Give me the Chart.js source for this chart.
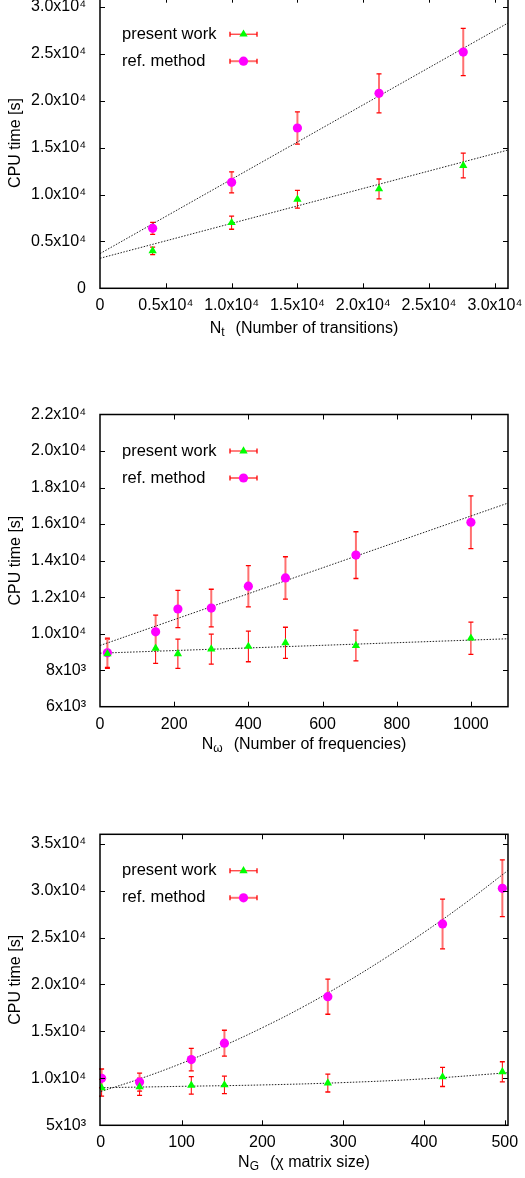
<!DOCTYPE html>
<html>
<head>
<meta charset="utf-8">
<title>CPU time</title>
<script src="https://cdn.jsdelivr.net/npm/chart.js@4.4.1/dist/chart.umd.min.js"></script>
<style>
  html, body { margin: 0; padding: 0; background: #fff; }
  body { position: relative; width: 525px; height: 1178px; overflow: hidden; }
  canvas { position: absolute; left: 0; }
</style>
</head>
<body>
<canvas id="transChart" width="525" height="380" style="top:-30px"></canvas>
<canvas id="freqChart" width="525" height="400" style="top:370px"></canvas>
<canvas id="sizeChart" width="525" height="388" style="top:790px"></canvas>
<script>
// panel 1: CPU time vs number of transitions
const transX = [4000, 10000, 15000, 21200, 27600];
const transPresent = [4000, 7000, 9500, 10600, 13100];
const transPresentErr = [400, 700, 950, 1060, 1310];
const transRef = [6400, 11300, 17100, 20800, 25200];
const transRefErr = [640, 1130, 1710, 2080, 2520];
const transFitX = [0, 31000];
const transFitPresent = [3200, 14750];
const transFitRef = [3700, 28300];
const transXTicks = [0, 5000, 10000, 15000, 20000, 25000, 30000];
const transXLabels = ['0', '0.5x10⁴', '1.0x10⁴', '1.5x10⁴', '2.0x10⁴', '2.5x10⁴', '3.0x10⁴'];
const transYTicks = [0, 5000, 10000, 15000, 20000, 25000, 30000];
const transYLabels = ['0', '0.5x10⁴', '1.0x10⁴', '1.5x10⁴', '2.0x10⁴', '2.5x10⁴', '3.0x10⁴'];

// panel 2: CPU time vs number of frequencies
const freqX = [20, 150, 210, 300, 400, 500, 690, 1000];
const freqPresent = [8900, 9200, 8900, 9150, 9300, 9500, 9350, 9750];
const freqPresentErr = [800, 830, 800, 820, 840, 850, 840, 880];
const freqRef = [8950, 10100, 11350, 11400, 12600, 13050, 14300, 16100];
const freqRefErr = [800, 910, 1020, 1030, 1130, 1160, 1280, 1440];
const freqFitX = [0, 1100];
const freqFitPresent = [8930, 9720];
const freqFitRef = [9350, 17150];
const freqXTicks = [0, 200, 400, 600, 800, 1000];
const freqXLabels = ['0', '200', '400', '600', '800', '1000'];
const freqYTicks = [6000, 8000, 10000, 12000, 14000, 16000, 18000, 20000, 22000];
const freqYLabels = ['6x10³', '8x10³', '1.0x10⁴', '1.2x10⁴', '1.4x10⁴', '1.6x10⁴', '1.8x10⁴', '2.0x10⁴', '2.2x10⁴'];

// panel 3: CPU time vs chi matrix size
const sizeX = [1, 48, 112, 153, 281, 423, 497];
const sizePresent = [9000, 9100, 9250, 9300, 9500, 10150, 10700];
const sizePresentErr = [900, 910, 925, 930, 950, 1015, 1070];
const sizeRef = [10000, 9600, 12000, 13750, 18700, 26450, 30250];
const sizeRefErr = [1000, 960, 1200, 1375, 1870, 2645, 3025];
const sizeFitPresentX = [0, 100, 200, 300, 400, 504];
const sizeFitPresent = [9000, 9150, 9300, 9550, 9950, 10600];
const sizeFitRefX = [0, 50, 100, 150, 200, 250, 300, 350, 400, 450, 504];
const sizeFitRef = [8600, 10000, 11600, 13400, 15400, 17600, 20050, 22700, 25550, 28600, 32150];
const sizeXTicks = [0, 100, 200, 300, 400, 500];
const sizeXLabels = ['0', '100', '200', '300', '400', '500'];
const sizeYTicks = [5000, 10000, 15000, 20000, 25000, 30000, 35000];
const sizeYLabels = ['5x10³', '1.0x10⁴', '1.5x10⁴', '2.0x10⁴', '2.5x10⁴', '3.0x10⁴', '3.5x10⁴'];

const FONT = '"Liberation Sans", Arial, Helvetica, sans-serif';
const GREEN = '#00ff00';
const MAGENTA = '#ff00ff';

function pts(xs, ys) {
  return xs.map((x, i) => ({ x, y: ys[i] }));
}

function drawMarker(ctx, style, x, y) {
  ctx.beginPath();
  if (style === 'triangle') {
    const r = 4.8;
    ctx.fillStyle = GREEN;
    ctx.moveTo(x, y - r);
    ctx.lineTo(x + r * Math.sin(2 * Math.PI / 3), y - r * Math.cos(2 * Math.PI / 3));
    ctx.lineTo(x + r * Math.sin(4 * Math.PI / 3), y - r * Math.cos(4 * Math.PI / 3));
    ctx.closePath();
  } else {
    ctx.fillStyle = MAGENTA;
    ctx.arc(x, y, 4.6, 0, Math.PI * 2);
  }
  ctx.fill();
}

// vertical error bar (horizontal when legend sample)
function errBar(ctx, light, x1, y1, x2, y2) {
  ctx.save();
  ctx.strokeStyle = light ? '#ff7070' : '#ff0000';
  ctx.lineWidth = light ? 2 : 1;
  ctx.beginPath();
  ctx.moveTo(x1, y1);
  ctx.lineTo(x2, y2);
  ctx.stroke();
  ctx.strokeStyle = '#ff0000';
  ctx.lineWidth = 1.3;
  ctx.beginPath();
  if (x1 === x2) {
    ctx.moveTo(x1 - 2.5, y1); ctx.lineTo(x1 + 2.5, y1);
    ctx.moveTo(x2 - 2.5, y2); ctx.lineTo(x2 + 2.5, y2);
  } else {
    ctx.moveTo(x1, y1 - 2.5); ctx.lineTo(x1, y1 + 2.5);
    ctx.moveTo(x2, y2 - 2.5); ctx.lineTo(x2, y2 + 2.5);
  }
  ctx.stroke();
  ctx.restore();
}

const gnuplotLook = {
  id: 'gnuplotLook',
  beforeDatasetsDraw(chart) {
    const ctx = chart.ctx;
    const xs = chart.scales.x, ys = chart.scales.y;
    chart.data.datasets.forEach(ds => {
      if (!ds.errors) return;
      ds.data.forEach((p, i) => {
        const px = xs.getPixelForValue(p.x);
        errBar(ctx, ds.lightErr, px, ys.getPixelForValue(p.y + ds.errors[i]),
          px, ys.getPixelForValue(p.y - ds.errors[i]));
      });
    });
  },
  afterDraw(chart, args, opts) {
    const ctx = chart.ctx;
    const a = chart.chartArea;
    const xs = chart.scales.x, ys = chart.scales.y;
    ctx.save();
    // inward ticks on all four sides
    ctx.strokeStyle = '#000';
    ctx.lineWidth = 1;
    ctx.beginPath();
    xs.ticks.forEach(t => {
      const px = Math.round(xs.getPixelForValue(t.value)) + 0.5;
      if (px < a.left + 2 || px > a.right - 2) return;
      ctx.moveTo(px, a.bottom); ctx.lineTo(px, a.bottom - 5);
      ctx.moveTo(px, a.top); ctx.lineTo(px, a.top + 5);
    });
    ys.ticks.forEach(t => {
      const py = Math.round(ys.getPixelForValue(t.value)) + 0.5;
      if (py < a.top + 2 || py > a.bottom - 2) return;
      ctx.moveTo(a.left, py); ctx.lineTo(a.left + 5, py);
      ctx.moveTo(a.right, py); ctx.lineTo(a.right - 5, py);
    });
    ctx.stroke();
    ctx.lineWidth = 1.5;
    ctx.strokeRect(a.left, a.top, a.right - a.left, a.bottom - a.top);

    // legend, text first then sample (gnuplot style)
    ctx.font = '16.5px ' + FONT;
    ctx.fillStyle = '#000';
    ctx.textBaseline = 'middle';
    ctx.textAlign = 'left';
    const rows = [
      { label: chart.data.datasets[0].label, light: false, marker: 'triangle' },
      { label: chart.data.datasets[1].label, light: true, marker: 'circle' }
    ];
    rows.forEach((r, i) => {
      const y = a.top + 36.5 + i * 27;
      ctx.fillStyle = '#000';
      ctx.fillText(r.label, a.left + 22, y);
      errBar(ctx, r.light, a.left + 130, y, a.left + 157, y);
      drawMarker(ctx, r.marker, a.left + 143.5, y);
    });

    // y title
    ctx.fillStyle = '#000';
    ctx.save();
    ctx.translate(16, (a.top + a.bottom) / 2);
    ctx.rotate(-Math.PI / 2);
    ctx.textAlign = 'center';
    ctx.font = '16px ' + FONT;
    ctx.fillText('CPU time [s]', 0, 0);
    ctx.restore();

    // x title with subscript
    const y = a.bottom + opts.titleDy;
    ctx.font = '16px ' + FONT;
    const wN = ctx.measureText('N').width;
    const wR = ctx.measureText(opts.rest).width;
    ctx.font = '12px ' + FONT;
    const wS = ctx.measureText(opts.sub).width;
    const gap = 11;
    let x = (a.left + a.right) / 2 - (wN + wS + gap + wR) / 2;
    ctx.textAlign = 'left';
    ctx.font = '16px ' + FONT;
    ctx.fillText('N', x, y);
    x += wN;
    ctx.font = '12px ' + FONT;
    ctx.fillText(opts.sub, x, y + 4);
    x += wS + gap;
    ctx.font = '16px ' + FONT;
    ctx.fillText(opts.rest, x, y);
    ctx.restore();
  }
};

function makeChart(id, p) {
  return new Chart(document.getElementById(id), {
    type: 'scatter',
    data: {
      datasets: [
        { label: 'present work', data: pts(p.xs, p.present), errors: p.presentErr, lightErr: false,
          pointStyle: 'triangle', pointRadius: 4.8, pointHoverRadius: 4.8, pointBorderWidth: 0,
          backgroundColor: GREEN, borderColor: GREEN },
        { label: 'ref. method', data: pts(p.xs, p.ref), errors: p.refErr, lightErr: true,
          pointStyle: 'circle', pointRadius: 4.6, pointHoverRadius: 4.6, pointBorderWidth: 0,
          backgroundColor: MAGENTA, borderColor: MAGENTA },
        { label: 'fit present', data: pts(p.fitPX, p.fitP), showLine: true, pointRadius: 0,
          borderColor: '#222', borderWidth: 1, borderDash: [1.5, 1.5], tension: 0.4 },
        { label: 'fit ref', data: pts(p.fitRX, p.fitR), showLine: true, pointRadius: 0,
          borderColor: '#222', borderWidth: 1, borderDash: [1.5, 1.5], tension: 0.4 }
      ]
    },
    options: {
      responsive: false,
      devicePixelRatio: 1,
      animation: false,
      layout: { padding: { top: p.top, right: 17, left: 0, bottom: 0 } },
      plugins: {
        legend: { display: false },
        tooltip: { enabled: false },
        gnuplotLook: { titleDy: p.titleDy, sub: p.sub, rest: p.rest }
      },
      scales: {
        x: {
          type: 'linear', min: p.xMin, max: p.xMax,
          grid: { display: false }, border: { display: false },
          afterBuildTicks: s => { s.ticks = p.xTicks.map(v => ({ value: v })); },
          afterFit: s => { s.height = p.xAxisH; },
          ticks: { autoSkip: false, maxRotation: 0, padding: 0, color: '#000',
            font: { family: FONT, size: 16 }, callback: (v, i) => p.xLabels[i] }
        },
        y: {
          type: 'linear', min: p.yMin, max: p.yMax,
          grid: { display: false }, border: { display: false },
          afterBuildTicks: s => { s.ticks = p.yTicks.map(v => ({ value: v })); },
          afterFit: s => { s.width = 100; },
          ticks: { autoSkip: false, padding: 6, color: '#000',
            font: { family: FONT, size: 16 }, callback: (v, i) => p.yLabels[i] }
        }
      }
    },
    plugins: [gnuplotLook]
  });
}

makeChart('transChart', {
  xs: transX, present: transPresent, presentErr: transPresentErr, ref: transRef, refErr: transRefErr,
  fitPX: transFitX, fitP: transFitPresent, fitRX: transFitX, fitR: transFitRef,
  xMin: 0, xMax: 31000, yMin: 0, yMax: 31000,
  xTicks: transXTicks, xLabels: transXLabels, yTicks: transYTicks, yLabels: transYLabels,
  top: 27.7, xAxisH: 61.7, titleDy: 40.5, sub: 't', rest: '(Number of transitions)'
});

makeChart('freqChart', {
  xs: freqX, present: freqPresent, presentErr: freqPresentErr, ref: freqRef, refErr: freqRefErr,
  fitPX: freqFitX, fitP: freqFitPresent, fitRX: freqFitX, fitR: freqFitRef,
  xMin: 0, xMax: 1100, yMin: 6000, yMax: 22000,
  xTicks: freqXTicks, xLabels: freqXLabels, yTicks: freqYTicks, yLabels: freqYLabels,
  top: 44.5, xAxisH: 63.3, titleDy: 37.5, sub: 'ω', rest: '(Number of frequencies)'
});

makeChart('sizeChart', {
  xs: sizeX, present: sizePresent, presentErr: sizePresentErr, ref: sizeRef, refErr: sizeRefErr,
  fitPX: sizeFitPresentX, fitP: sizeFitPresent, fitRX: sizeFitRefX, fitR: sizeFitRef,
  xMin: -1, xMax: 504, yMin: 5000, yMax: 36000,
  xTicks: sizeXTicks, xLabels: sizeXLabels, yTicks: sizeYTicks, yLabels: sizeYLabels,
  top: 44.3, xAxisH: 52.7, titleDy: 37.7, sub: 'G', rest: '(χ matrix size)'
});
</script>
</body>
</html>
